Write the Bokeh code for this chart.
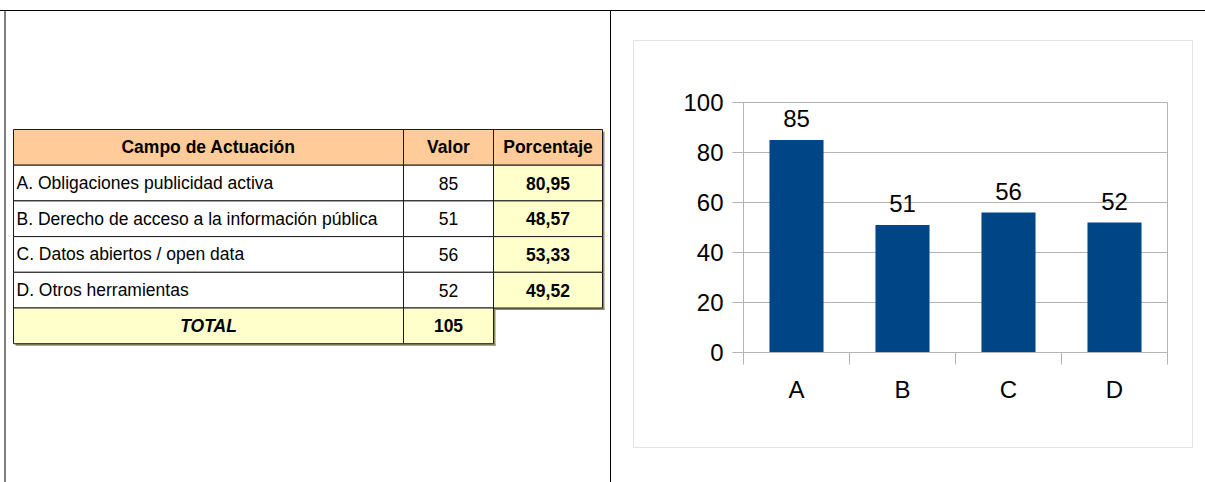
from bokeh.plotting import figure
from bokeh.models import Range1d, LinearAxis, FixedTicker, ColumnDataSource, LabelSet
from bokeh.layouts import row
from bokeh.core.properties import value
from bokeh.embed import file_html
from bokeh.resources import INLINE

# ---------------- data ----------------
headers = ["Campo de Actuación", "Valor", "Porcentaje"]
fields = ["A. Obligaciones publicidad activa",
          "B. Derecho de acceso a la información pública",
          "C. Datos abiertos / open data",
          "D. Otros herramientas"]
letters = ["A", "B", "C", "D"]
valores = [85, 51, 56, 52]
porcentajes = ["80,95", "48,57", "53,33", "49,52"]
total_label = "TOTAL"
total_value = 105
y_ticks = [0, 20, 40, 60, 80, 100]

# ---------------- layout constants ----------------
TABLE_FONT = "Liberation Sans"
TFS = "17.5px"
CHART_FONT = "Liberation Sans"
col_edges = [13, 403, 493, 602]
row_top = 129
row_h = 35.7
HEADER_FILL = "#ffcc99"
YELLOW = "#ffffcc"
BORDER = "#1a1a1a"
BAR = "#004586"
GRID = "#b3b3b3"
W, H = 1205, 482
TW = 610
FT, FB = 102, 352  # frame top / bottom (page px)

# ---------------- table figure ----------------
tp = figure(width=TW, height=H, x_range=Range1d(0, TW), y_range=Range1d(FB, FT),
            output_backend="svg", toolbar_location=None,
            x_axis_location=None, y_axis_location=None,
            min_border_left=0, min_border_right=0, min_border_top=FT, min_border_bottom=H - FB)
tp.grid.visible = False
tp.outline_line_color = None
tp.background_fill_color = None
tp.border_fill_color = None

nrows = len(fields) + 2  # header + data + total
edges_y = [row_top + k * row_h for k in range(nrows + 1)]

cells = dict(left=[], right=[], top=[], bottom=[], fill=[])
def add_cell(c0, c1, r, fill):
    cells["left"].append(col_edges[c0])
    cells["right"].append(col_edges[c1])
    cells["top"].append(edges_y[r])
    cells["bottom"].append(edges_y[r + 1])
    cells["fill"].append(fill)

for c in range(3):
    add_cell(c, c + 1, 0, HEADER_FILL)
for i in range(len(fields)):
    add_cell(0, 1, i + 1, "white")
    add_cell(1, 2, i + 1, "white")
    add_cell(2, 3, i + 1, YELLOW)
add_cell(0, 1, nrows - 1, YELLOW)
add_cell(1, 2, nrows - 1, YELLOW)

# shadow
sh = dict(left=[col_edges[3], col_edges[2], col_edges[2], col_edges[0] + 2],
          right=[col_edges[3] + 2, col_edges[3] + 2, col_edges[2] + 2, col_edges[2] + 2],
          top=[edges_y[0] + 2, edges_y[nrows - 1], edges_y[nrows - 1], edges_y[nrows]],
          bottom=[edges_y[nrows - 1] + 2, edges_y[nrows - 1] + 2, edges_y[nrows] + 2, edges_y[nrows] + 2])
tp.quad(source=ColumnDataSource(sh), left="left", right="right", top="top", bottom="bottom",
        fill_color="#8c8c6a", line_color=None)

tp.quad(source=ColumnDataSource(cells), left="left", right="right", top="top", bottom="bottom",
        fill_color="fill", line_color=BORDER, line_width=1)

centers_x = [(col_edges[k] + col_edges[k + 1]) / 2 for k in range(3)]
centers_y = [(edges_y[k] + edges_y[k + 1]) / 2 for k in range(nrows)]

def ttext(xs, ys, texts, style="normal", align="center"):
    tp.text(x=xs, y=ys, text=texts, text_font=value(TABLE_FONT), text_font_size=TFS,
            text_font_style=style, text_align=align, text_baseline="middle", text_color="black")

nf = len(fields)
ttext(centers_x, [centers_y[0]] * 3, headers, "bold")
ttext([col_edges[0] + 3] * nf, centers_y[1:1 + nf], fields, "normal", "left")
ttext([centers_x[1]] * nf, centers_y[1:1 + nf], [str(v) for v in valores])
ttext([centers_x[2]] * nf, centers_y[1:1 + nf], porcentajes, "bold")
ttext([centers_x[0]], [centers_y[-1]], [total_label], "bold italic")
ttext([centers_x[1]], [centers_y[-1]], [str(total_value)], "bold")

# ---------------- chart figure ----------------
n = len(letters)
xpos = [i + 0.5 for i in range(n)]
cp = figure(width=W - TW, height=H, x_range=Range1d(0, n), y_range=Range1d(0, 100),
            output_backend="svg", toolbar_location=None, x_axis_location=None,
            min_border_left=743 - TW, min_border_right=W - 1167,
            min_border_top=FT, min_border_bottom=H - FB)
cp.outline_line_color = GRID
cp.background_fill_color = "white"
cp.border_fill_color = None
cp.xgrid.visible = False
cp.ygrid.ticker = FixedTicker(ticks=y_ticks)
cp.ygrid.grid_line_color = GRID

ya = cp.yaxis[0]
ya.ticker = FixedTicker(ticks=y_ticks)
ya.axis_line_color = GRID
ya.major_tick_line_color = GRID
ya.major_tick_out = 11
ya.major_tick_in = 0
ya.minor_tick_line_color = None
ya.major_label_text_font = CHART_FONT
ya.major_label_text_font_size = "24px"
ya.major_label_text_color = "black"
ya.major_label_standoff = 9

xa = LinearAxis(ticker=FixedTicker(ticks=xpos, minor_ticks=list(range(n + 1))),
                major_label_overrides={x: l for x, l in zip(xpos, letters)},
                major_tick_line_color=None, major_tick_out=0, major_tick_in=0,
                minor_tick_line_color=GRID, minor_tick_out=12, minor_tick_in=0,
                axis_line_color=GRID,
                major_label_text_font=CHART_FONT, major_label_text_font_size="24px",
                major_label_text_color="black", major_label_standoff=11)
cp.add_layout(xa, "below")

src = ColumnDataSource(dict(x=xpos, top=valores, label=[str(v) for v in valores]))
cp.vbar(x="x", top="top", width=0.51, source=src, fill_color=BAR, line_color=None)
cp.add_layout(LabelSet(x="x", y="top", text="label", source=src, y_offset=13,
                       text_align="center", text_baseline="alphabetic",
                       text_font=value(CHART_FONT), text_font_size="24px", text_color="black"))

# ---------------- page decorations (frame lines and chart area box) ----------------
deco = [  # (color, w, h, x, y)
    ("#000000", W, 1, 0, 10),
    ("#808080", 2, H - 10, 4, 10),
    ("#000000", 1, H - 10, 610, 10),
    ("#e3e3e3", 560, 1, 633, 40),
    ("#e3e3e3", 560, 1, 633, 447),
    ("#e3e3e3", 1, 408, 633, 40),
    ("#e3e3e3", 1, 408, 1192, 40),
]
styles = {
    "background-color": "white",
    "background-image": ", ".join(f"linear-gradient({c}, {c})" for c, *_ in deco),
    "background-size": ", ".join(f"{w}px {h}px" for _, w, h, _x, _y in deco),
    "background-position": ", ".join(f"{x}px {y}px" for _, _w, _h, x, y in deco),
    "background-repeat": "no-repeat",
}

layout = row(tp, cp, styles=styles)
open("out.html", "w").write(file_html(layout, INLINE))
